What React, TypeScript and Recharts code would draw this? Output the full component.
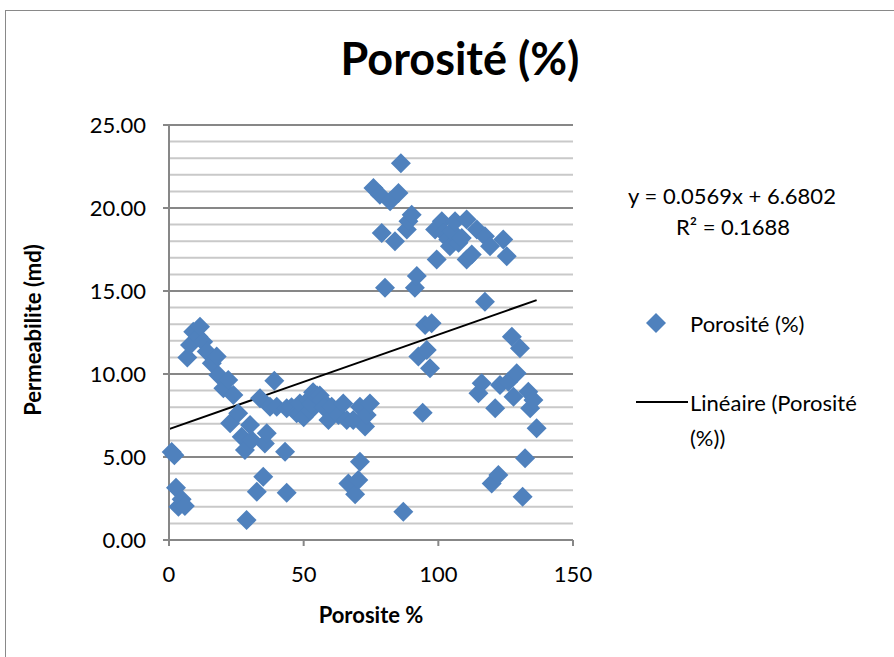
import { ScatterChart, Scatter, XAxis, YAxis, CartesianGrid, ReferenceLine } from 'recharts';

// valeurs
const porosite = [
  1.0, 2.0, 2.6, 3.5, 4.7, 5.9, 6.8, 7.8, 9.0, 10.9, 11.5, 12.7, 14.0, 15.9, 17.7, 18.3, 20.2, 22.0,
  22.7, 23.9, 25.7, 27.0, 28.2, 28.8, 30.1, 30.7, 32.6, 33.8, 35.0, 35.6, 36.3, 37.5, 39.1, 40.0,
  43.1, 43.7, 43.7, 45.5, 47.4, 48.6, 48.6, 50.0, 51.7, 52.5, 53.0, 53.5, 55.0, 56.0, 56.7, 57.5,
  59.2, 60.4, 62.9, 64.7, 66.0, 66.6, 68.4, 69.1, 70.3, 70.9, 70.9, 72.8, 73.4, 74.6, 75.9, 78.3,
  79.0, 80.2, 82.1, 83.9, 85.2, 86.1, 87.0, 88.3, 88.9, 90.1, 91.3, 92.0, 92.6, 94.2, 95.1, 95.7,
  96.9, 97.5, 98.8, 99.4, 101.3, 102.0, 103.7, 104.3, 105.0, 106.2, 107.5, 108.7, 110.5, 110.5,
  112.4, 114.3, 114.9, 116.1, 117.3, 117.3, 119.2, 119.8, 121.1, 122.3, 122.9, 124.1, 125.4, 126.0,
  127.3, 127.9, 129.1, 130.3, 131.3, 132.2, 133.4, 134.1, 135.3, 136.5,
];
const permeabilite = [
  5.3, 5.1, 3.15, 2.0, 2.45, 2.05, 11.0, 11.75, 12.55, 12.25, 12.85, 11.95, 11.35, 10.65, 11.05, 9.94, 9.14, 9.64,
  7.03, 8.73, 7.63, 6.22, 5.42, 1.2, 6.93, 6.02, 2.91, 8.54, 3.81, 5.82, 6.43, 8.03, 9.6, 8.03,
  5.32, 2.85, 7.93, 8.0, 7.63, 7.63, 8.23, 7.4, 8.43, 7.8, 8.2, 8.9, 8.7, 8.7, 8.43, 8.0,
  7.23, 8.03, 7.53, 8.23, 7.23, 3.41, 7.23, 2.75, 3.61, 8.03, 4.72, 6.83, 7.53, 8.23, 21.2, 20.8,
  18.5, 15.2, 20.4, 18.0, 20.9, 22.7, 1.7, 18.7, 19.2, 19.6, 15.2, 15.9, 11.05, 7.67, 12.95, 11.45,
  10.34, 13.05, 18.7, 16.9, 19.2, 18.5, 18.1, 17.7, 18.6, 19.2, 17.9, 18.2, 19.3, 16.9,
  17.2, 18.7, 8.84, 9.44, 18.3, 14.35, 17.7, 3.41, 7.93, 3.92, 9.34, 18.1, 17.1, 9.54,
  12.25, 8.63, 10.04, 11.55, 2.61, 4.92, 8.93, 7.93, 8.43, 6.73,
];
const tendance = [
  { x: 0, y: 6.68 },
  { x: 136.5, y: 14.45 },
];
const xTicks = [0, 50, 100, 150];
const yTicks = [0, 5, 10, 15, 20, 25];
const yMinor = [1, 2, 3, 4, 6, 7, 8, 9, 11, 12, 13, 14, 16, 17, 18, 19, 21, 22, 23, 24];

const data = porosite.map((x, i) => ({ x, y: permeabilite[i] }));

const BLUE = '#4F81BD';
const FONT = 'Lato, "Open Sans", sans-serif';
const FS = 22;

const Diamond = (props: any) => {
  const { cx, cy } = props;
  const r = 10;
  return <polygon points={`${cx},${cy - r} ${cx + r},${cy} ${cx},${cy + r} ${cx - r},${cy}`} fill={BLUE} />;
};

export default function App() {
  return (
    <div style={{ position: 'fixed', left: 0, top: 0, width: 894, height: 657, overflow: 'hidden', background: '#fff', fontFamily: FONT, color: '#000' }}>
      <div style={{ position: 'absolute', left: 5, top: 10, width: 1000, height: 1000, border: '1px solid #898989' }} />
      <div style={{ position: 'absolute', left: 0, width: 920, top: 31, textAlign: 'center', fontWeight: 700, fontSize: 45 }}>Porosité (%)</div>

      <div style={{ position: 'absolute', left: 0, top: 0 }}>
        <ScatterChart width={894} height={657} margin={{ top: 125, right: 321, bottom: 77, left: 99 }}>
          <CartesianGrid vertical={false} stroke="#878787" strokeWidth={2} />
          {yMinor.map((v) => (
            <ReferenceLine key={v} y={v} stroke="#c9c9c9" strokeWidth={2} />
          ))}
          <XAxis
            type="number"
            dataKey="x"
            domain={[0, 150]}
            ticks={xTicks}
            tick={{ fill: '#000', fontSize: FS, fontFamily: FONT }}
            axisLine={{ stroke: '#878787', strokeWidth: 2 }}
            tickLine={{ stroke: '#878787', strokeWidth: 2 }}
            tickSize={6}
            tickMargin={20}
            height={40}
          />
          <YAxis
            type="number"
            dataKey="y"
            domain={[0, 25]}
            ticks={yTicks}
            tickFormatter={(v: number) => v.toFixed(2)}
            tick={{ fill: '#000', fontSize: FS, fontFamily: FONT }}
            axisLine={{ stroke: '#878787', strokeWidth: 2 }}
            tickLine={{ stroke: '#878787', strokeWidth: 2 }}
            tickSize={6}
            tickMargin={17}
            width={70}
          />
          <Scatter data={data} shape={Diamond} isAnimationActive={false} />
          <ReferenceLine segment={tendance} stroke="#000" strokeWidth={2} />
        </ScatterChart>
      </div>

      <div style={{ position: 'absolute', left: 32, top: 330, transform: 'translate(-50%, -50%) rotate(-90deg)', whiteSpace: 'nowrap', fontWeight: 700, fontSize: 22 }}>
        Permeabilite (md)
      </div>
      <div style={{ position: 'absolute', left: 371, top: 614, transform: 'translate(-50%, -50%)', whiteSpace: 'nowrap', fontWeight: 700, fontSize: 22 }}>
        Porosite %
      </div>

      <div style={{ position: 'absolute', left: 732, top: 195, transform: 'translate(-50%, -50%)', whiteSpace: 'nowrap', fontSize: FS }}>
        y = 0.0569x + 6.6802
      </div>
      <div style={{ position: 'absolute', left: 733, top: 226, transform: 'translate(-50%, -50%)', whiteSpace: 'nowrap', fontSize: FS }}>
        R² = 0.1688
      </div>

      <svg style={{ position: 'absolute', left: 0, top: 0 }} width={894} height={657}>
        <polygon points="656,313 666,323 656,333 646,323" fill={BLUE} />
        <line x1={636} y1={402} x2={688} y2={402} stroke="#000" strokeWidth={2} />
      </svg>
      <div style={{ position: 'absolute', left: 690, top: 323, transform: 'translateY(-50%)', whiteSpace: 'nowrap', fontSize: FS }}>Porosité (%)</div>
      <div style={{ position: 'absolute', left: 690, top: 385, fontSize: FS, lineHeight: '35px', whiteSpace: 'nowrap' }}>
        Linéaire (Porosité
        <br />
        (%))
      </div>
    </div>
  );
}
